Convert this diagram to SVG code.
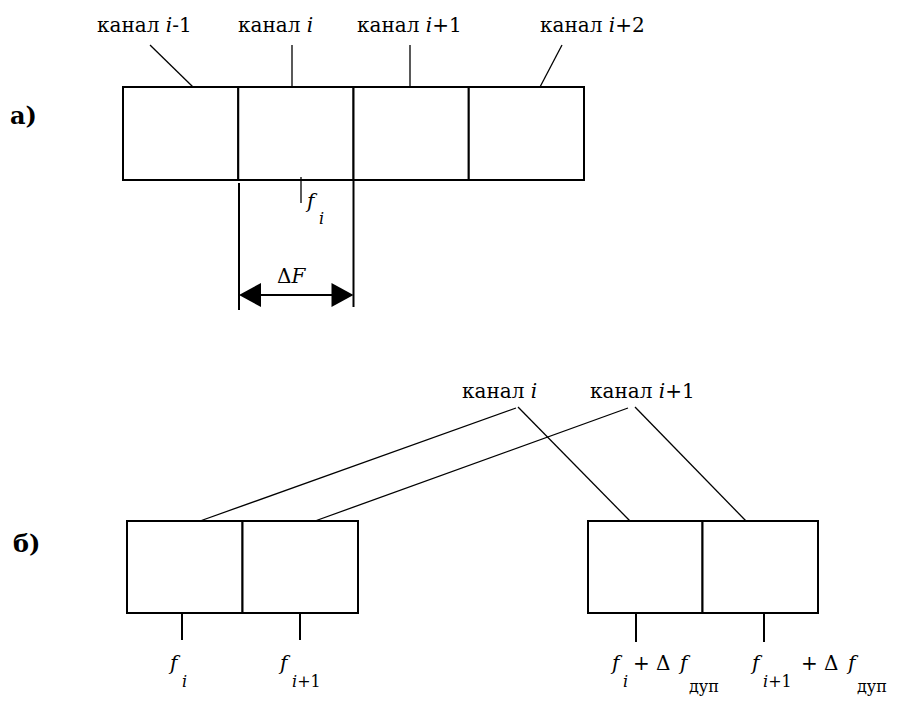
<svg xmlns="http://www.w3.org/2000/svg" width="921" height="706" viewBox="0 0 921 706">
<style>
text { fill:#000; }
.lbl { font-size: 20px; }
.it { font-style: italic; }
.sub { font-size: 16px; font-style: italic; }
.up { font-style: normal; }
.sec { font-size: 24px; font-weight: bold; }
.box { fill:#fff; stroke:#000; stroke-width:2; }
.ln { stroke:#000; stroke-width:1.3; fill:none; }
.tk { stroke:#000; stroke-width:2; fill:none; }
</style>
<rect width="921" height="706" fill="#fff"/>

<g id="label-a"><text font-family="DejaVu Serif, serif" class="sec" x="10" y="124">а)</text></g>

<g id="a-ch-im1"><rect class="box" x="123" y="87" width="115.25" height="93"/></g>
<g id="a-ch-i"><rect class="box" x="238.25" y="87" width="115.25" height="93"/></g>
<g id="a-ch-ip1"><rect class="box" x="353.5" y="87" width="115.25" height="93"/></g>
<g id="a-ch-ip2"><rect class="box" x="468.75" y="87" width="115.25" height="93"/></g>

<g id="a-labels">
<text font-family="DejaVu Serif, serif" class="lbl" x="97" y="32">канал <tspan class="it">i</tspan>-1</text>
<text font-family="DejaVu Serif, serif" class="lbl" x="238" y="32">канал <tspan class="it">i</tspan></text>
<text font-family="DejaVu Serif, serif" class="lbl" x="357" y="32">канал <tspan class="it">i</tspan>+1</text>
<text font-family="DejaVu Serif, serif" class="lbl" x="540" y="32">канал <tspan class="it">i</tspan>+2</text>
<text font-family="DejaVu Serif, serif" class="lbl it" x="307" y="208">f</text>
<text font-family="DejaVu Serif, serif" class="sub" x="319" y="224">i</text>
<text font-family="DejaVu Serif, serif" class="lbl" x="277" y="283">Δ<tspan class="it">F</tspan></text>
</g>

<g id="connectors-a">
<line class="ln" x1="150" y1="45" x2="193" y2="87"/>
<line class="ln" x1="292" y1="45" x2="292" y2="87"/>
<line class="ln" x1="410" y1="45" x2="410" y2="87"/>
<line class="ln" x1="562" y1="45" x2="540" y2="87"/>
<line class="ln" x1="301" y1="177" x2="301" y2="203"/>
<line class="tk" x1="239" y1="183" x2="239" y2="310"/>
<line class="tk" x1="353.5" y1="180" x2="353.5" y2="307"/>
<line class="tk" x1="250" y1="295" x2="343" y2="295"/>
<polygon points="239,295 261,283 261,307" fill="#000"/>
<polygon points="353.5,295 331.5,283 331.5,307" fill="#000"/>
</g>

<g id="label-b"><text font-family="DejaVu Serif, serif" class="sec" x="13" y="552">б)</text></g>

<g id="b-left-i"><rect class="box" x="127" y="521" width="115.5" height="92"/></g>
<g id="b-left-ip1"><rect class="box" x="242.5" y="521" width="115.5" height="92"/></g>
<g id="b-right-i"><rect class="box" x="588" y="521" width="114.5" height="92"/></g>
<g id="b-right-ip1"><rect class="box" x="702.5" y="521" width="115.5" height="92"/></g>

<g id="b-labels">
<text font-family="DejaVu Serif, serif" class="lbl" x="462" y="398">канал <tspan class="it">i</tspan></text>
<text font-family="DejaVu Serif, serif" class="lbl" x="590" y="398">канал <tspan class="it">i</tspan>+1</text>
<text font-family="DejaVu Serif, serif" class="lbl it" x="170" y="670">f</text>
<text font-family="DejaVu Serif, serif" class="sub" x="182" y="687">i</text>
<text font-family="DejaVu Serif, serif" class="lbl it" x="280" y="670">f</text>
<text font-family="DejaVu Serif, serif" class="sub" x="292" y="687">i<tspan class="up">+1</tspan></text>
<text font-family="DejaVu Serif, serif" class="lbl it" x="612" y="670">f</text>
<text font-family="DejaVu Serif, serif" class="sub" x="623" y="687">i</text>
<text font-family="DejaVu Serif, serif" class="lbl" x="633" y="670">+ Δ</text>
<text font-family="DejaVu Serif, serif" class="lbl it" x="680" y="670">f</text>
<text font-family="DejaVu Serif, serif" class="sub up" x="689" y="692">дуп</text>
<text font-family="DejaVu Serif, serif" class="lbl it" x="752" y="670">f</text>
<text font-family="DejaVu Serif, serif" class="sub" x="763" y="687">i<tspan class="up">+1</tspan></text>
<text font-family="DejaVu Serif, serif" class="lbl" x="801" y="670">+ Δ</text>
<text font-family="DejaVu Serif, serif" class="lbl it" x="848" y="670">f</text>
<text font-family="DejaVu Serif, serif" class="sub up" x="857" y="692">дуп</text>
</g>

<g id="connectors-b">
<line class="ln" x1="200" y1="521" x2="516" y2="408"/>
<line class="ln" x1="315" y1="521" x2="628" y2="408"/>
<line class="ln" x1="518" y1="407" x2="630" y2="521"/>
<line class="ln" x1="635" y1="407" x2="746" y2="521"/>
<line class="tk" x1="182" y1="613" x2="182" y2="640"/>
<line class="tk" x1="300" y1="613" x2="300" y2="640"/>
<line class="tk" x1="636" y1="613" x2="636" y2="642"/>
<line class="tk" x1="764" y1="613" x2="764" y2="642"/>
</g>
</svg>
